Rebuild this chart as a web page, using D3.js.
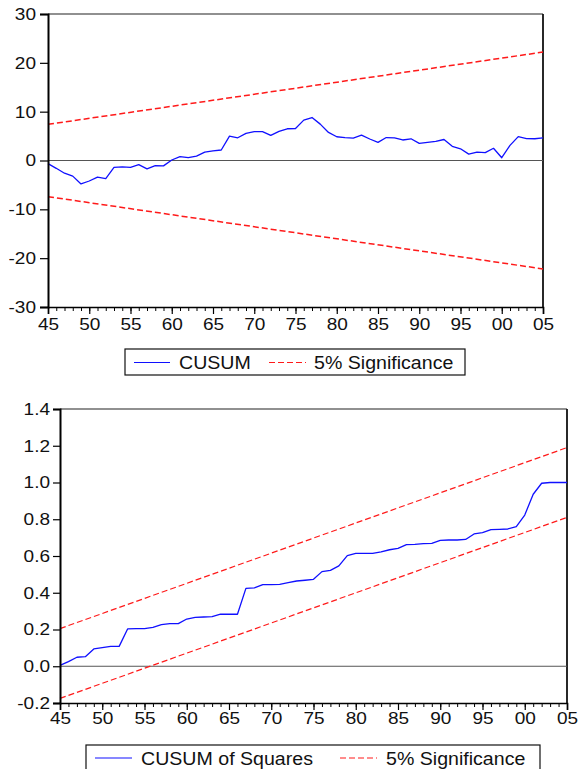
<!DOCTYPE html>
<html>
<head>
<meta charset="utf-8">
<script src="https://cdn.jsdelivr.net/npm/d3@7"></script>
<style>
  html, body { margin: 0; padding: 0; background: #fff; }
  svg { display: block; }
  text { font-family: "Liberation Sans", Arial, sans-serif; fill: #111; }
</style>
</head>
<body>
<svg id="chart" width="578" height="769"></svg>
<script>
// ---------------- DATA ----------------
const years = d3.range(1945, 2006);
const xTickLabels = ["45","50","55","60","65","70","75","80","85","90","95","00","05"];

const cusum = [
  -0.65, -1.6, -2.6, -3.2, -4.8, -4.2, -3.4, -3.7, -1.4, -1.3,
  -1.4, -0.85, -1.7, -1.05, -1.1, 0.1, 0.8, 0.57, 0.9, 1.7,
  1.95, 2.15, 5.0, 4.65, 5.55, 5.9, 5.9, 5.15, 5.95, 6.5,
  6.55, 8.27, 8.8, 7.45, 5.75, 4.86, 4.7, 4.6, 5.2, 4.4,
  3.7, 4.7, 4.65, 4.2, 4.45, 3.5, 3.7, 3.9, 4.3, 2.9,
  2.4, 1.3, 1.7, 1.6, 2.5, 0.57, 3.1, 4.9, 4.5, 4.45,
  4.65
];
const cusumUpper = [7.4, 22.2];     // at 1945, 2005
const cusumLower = [-7.4, -22.2];
const cusumYTicks = [-30, -20, -10, 0, 10, 20, 30];

const cusumSq = [
  0.005, 0.025, 0.049, 0.052, 0.094, 0.101, 0.108, 0.108, 0.203, 0.205,
  0.205, 0.212, 0.226, 0.232, 0.232, 0.257, 0.266, 0.268, 0.27, 0.283,
  0.283, 0.283, 0.424, 0.426, 0.444, 0.444, 0.446, 0.455, 0.464, 0.468,
  0.473, 0.515, 0.522, 0.546, 0.602, 0.614, 0.614, 0.614, 0.622, 0.634,
  0.642, 0.662, 0.663, 0.667, 0.669, 0.685, 0.687, 0.687, 0.69, 0.72,
  0.727, 0.743, 0.745, 0.747, 0.76, 0.823, 0.936, 0.996, 1.0, 1.0,
  1.0
];
const sqUpper = [0.205, 1.19];
const sqLower = [-0.175, 0.81];
const sqYTicks = [-0.2, 0.0, 0.2, 0.4, 0.6, 0.8, 1.0, 1.2, 1.4];

const legendTop = ["CUSUM", "5% Significance"];
const legendBottom = ["CUSUM of Squares", "5% Significance"];

// ---------------- DRAW ----------------
const svg = d3.select("#chart");
const SX = 1.12;          // horizontal stretch of the original text
const FONT = 17;
const BLUE = "#1010ff", RED = "#ff1a1a";

function panel(cfg) {
  const g = svg.append("g");
  const x = d3.scaleLinear().domain([1945, 2005]).range([cfg.left, cfg.right]);
  const y = d3.scaleLinear().domain(cfg.yDomain).range([cfg.bottom, cfg.top]);

  // frame
  g.append("line").attr("x1", cfg.left).attr("x2", cfg.right).attr("y1", cfg.top).attr("y2", cfg.top)
    .attr("stroke", "#222").attr("stroke-width", 1.2);
  g.append("line").attr("x1", cfg.right).attr("x2", cfg.right).attr("y1", cfg.top).attr("y2", cfg.bottom)
    .attr("stroke", "#111").attr("stroke-width", 1.8);

  // zero line
  g.append("line").attr("x1", cfg.left).attr("x2", cfg.right).attr("y1", y(0)).attr("y2", y(0))
    .attr("stroke", "#555").attr("stroke-width", 1);

  // significance bounds
  const bline = d3.line().x(d => x(d[0])).y(d => y(d[1]));
  [cfg.upper, cfg.lower].forEach(b => {
    g.append("path").attr("d", bline([[1945, b[0]], [2005, b[1]]]))
      .attr("fill", "none").attr("stroke", RED).attr("stroke-width", cfg.redW)
      .attr("stroke-dasharray", "6,3");
  });

  // series
  const line = d3.line().x((d, i) => x(years[i])).y(d => y(d));
  g.append("path").attr("d", line(cfg.series))
    .attr("fill", "none").attr("stroke", BLUE).attr("stroke-width", 1.3)
    .attr("stroke-linejoin", "round");

  // y axis
  const yAx = g.append("g").attr("transform", `translate(${cfg.left},0)`)
    .call(d3.axisLeft(y).tickValues(cfg.yTicks).tickSize(cfg.yTick).tickPadding(2)
      .tickFormat(cfg.yFmt));
  yAx.select(".domain").attr("stroke", "#000").attr("stroke-width", 2);
  yAx.selectAll(".tick line").attr("stroke", "#000").attr("stroke-width", 1.2);
  yAx.selectAll("text").attr("font-size", FONT).attr("font-family", "Liberation Sans, Arial, sans-serif")
    .attr("fill", "#111").attr("x", -(cfg.yTick + cfg.yGap) / SX).attr("transform", `scale(${SX},1)`);

  // x axis: minor ticks every year
  const xMinor = g.append("g").attr("transform", `translate(0,${cfg.bottom})`)
    .call(d3.axisBottom(x).tickValues(years).tickSize(4).tickFormat(""));
  xMinor.select(".domain").remove();
  xMinor.selectAll(".tick line").attr("stroke", "#000");

  const majorYears = xTickLabels.map((_, i) => 1945 + i * 5);
  const xAx = g.append("g").attr("transform", `translate(0,${cfg.bottom})`)
    .call(d3.axisBottom(x).tickValues(majorYears).tickSize(7)
      .tickFormat((d, i) => xTickLabels[i]));
  xAx.select(".domain").attr("stroke", "#000").attr("stroke-width", 1.6);
  xAx.selectAll(".tick line").attr("stroke", "#000").attr("stroke-width", 1.2);
  xAx.selectAll("text").attr("font-size", FONT).attr("font-family", "Liberation Sans, Arial, sans-serif")
    .attr("fill", "#111").attr("y", cfg.xLabelBase).attr("dy", 0).attr("transform", `scale(${SX},1)`);

  // legend
  const L = cfg.legend;
  const lg = svg.append("g");
  lg.append("rect").attr("x", L.x).attr("y", L.y).attr("width", L.w).attr("height", L.h)
    .attr("fill", "#fff").attr("stroke", "#111").attr("stroke-width", 1.2);
  lg.append("line").attr("x1", L.s1[0]).attr("x2", L.s1[1]).attr("y1", L.ly).attr("y2", L.ly)
    .attr("stroke", BLUE).attr("stroke-width", 1.2);
  lg.append("line").attr("x1", L.s2[0]).attr("x2", L.s2[1]).attr("y1", L.ly).attr("y2", L.ly)
    .attr("stroke", RED).attr("stroke-width", 1.2).attr("stroke-dasharray", "6,3");
  [[L.t1, cfg.legendLabels[0]], [L.t2, cfg.legendLabels[1]]].forEach(([tx, label]) => {
    lg.append("text").attr("transform", `translate(${tx},${L.base}) scale(${SX},1)`)
      .attr("font-size", FONT + 0.5).text(label);
  });
}

panel({
  left: 48, right: 543, top: 14, bottom: 307,
  yDomain: [-30, 30], yTicks: cusumYTicks, yFmt: d => String(d),
  yTick: 8, yGap: 4, xLabelBase: 23, redW: 1.5,
  series: cusum, upper: cusumUpper, lower: cusumLower,
  legendLabels: legendTop,
  legend: { x: 125, y: 349, w: 340, h: 26, ly: 362.5, base: 369,
            s1: [134, 170], s2: [269, 306], t1: 179, t2: 314 }
});

panel({
  left: 60, right: 567, top: 409, bottom: 703,
  yDomain: [-0.2, 1.4], yTicks: sqYTicks, yFmt: d => d.toFixed(1),
  yTick: 7, yGap: 3, xLabelBase: 21, redW: 1.2,
  series: cusumSq, upper: sqUpper, lower: sqLower,
  legendLabels: legendBottom,
  legend: { x: 86, y: 745, w: 454, h: 27, ly: 758, base: 764.5,
            s1: [95, 132], s2: [340, 377], t1: 141, t2: 386 }
});
</script>
</body>
</html>
